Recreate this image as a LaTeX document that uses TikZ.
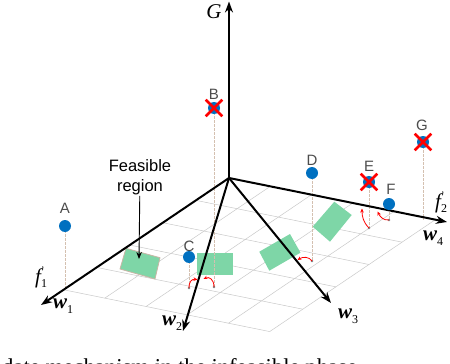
\documentclass[tikz,border=0pt]{standalone}
\usepackage{fontspec}
\setmainfont{Liberation Serif}
\newfontfamily\sansf{Liberation Sans}
\usetikzlibrary{arrows.meta,calc,shapes.misc}
\definecolor{ptblue}{RGB}{0,112,192}
\definecolor{feas}{RGB}{126,214,167}
\definecolor{dropc}{RGB}{212,192,176}
\definecolor{gridc}{RGB}{200,200,200}
\definecolor{rectb}{RGB}{200,182,165}
\begin{document}
\begin{tikzpicture}[x=1pt,y=-1pt,
  axis/.style={line width=2pt,-{Stealth[length=11pt,width=8pt]}},
  gridline/.style={draw=gridc,line width=0.5pt},
  drop/.style={draw=dropc,line width=0.8pt,dash pattern=on 2.5pt off 1.5pt},
  bluedot/.style={circle,fill=ptblue,minimum size=12pt,inner sep=0pt},
  xmark/.style={draw=red,cross out,line width=2.6pt,minimum size=14pt,inner sep=0pt},
  mv/.style={draw=red,line width=0.8pt,-{Stealth[length=4pt,width=3.5pt]}},
  foot/.style={circle,fill=gray,minimum size=2.6pt,inner sep=0pt},
  region/.style={fill=feas},
  plabel/.style={font=\sansf\fontsize{15}{15}\selectfont,text=black!70},
  mlabel/.style={font=\fontsize{21}{21}\selectfont,inner sep=0pt},
  sublabel/.style={font=\fontsize{12}{12}\selectfont}
]
\useasboundingbox (0,0) rectangle (450,364);

% floor grid
\coordinate (O) at (229,178);
\foreach \a in {0.176,0.352,0.528,0.704,0.88}
  \draw[gridline] ($(O)+\a*(-188,127)$) -- ($(O)+\a*(-188,127)+0.95*(217,44)$);
\foreach \b in {0.19,0.38,0.57,0.76,0.95}
  \draw[gridline] ($(O)+\b*(217,44)$) -- ($(O)+\b*(217,44)+0.88*(-188,127)$);

% feasible regions
\filldraw[region,draw=rectb,line width=0.8pt] (126,248.3) -- (160,257.7) -- (155,279) -- (120,269) -- cycle;
\fill[region] (197.3,252.7) rectangle (233.3,275.3);
\fill[region] (259.3,251.7) -- (290,234) -- (300.5,252.7) -- (269.3,270.7) -- cycle;
\fill[region] (312.7,226.7) -- (334.3,201.7) -- (351.7,215) -- (330,241.7) -- cycle;

% points and their feet
\coordinate (A) at (65,226);   \coordinate (Af) at (65,290);
\coordinate (B) at (214,108);  \coordinate (Bf) at (214,287);
\coordinate (C) at (189,257);  \coordinate (Cf) at (189,288);
\coordinate (D) at (312,173);  \coordinate (Df) at (312,261);
\coordinate (E) at (369,182);  \coordinate (Ef) at (369,228);
\coordinate (F) at (389,204);  \coordinate (Ff) at (389,220);
\coordinate (G) at (423,142);  \coordinate (Gf) at (423,220);

\foreach \p in {A,B,C,D,E,F,G}
  \draw[drop] (\p) -- (\p f);

% axes
\coordinate (Gend) at (229,1.5);
\coordinate (W1) at (41,305);
\coordinate (W2) at (183,331);
\coordinate (W3) at (331,303);
\coordinate (W4) at (447,222);
\draw[axis] (O) -- (Gend);
\draw[axis] (O) -- (W1);
\draw[axis] (O) -- (W2);
\draw[axis] (O) -- (W3);
\draw[axis] (O) -- (W4);

% feet markers
\foreach \p in {B,C,D,E,F}
  \node[foot] (\p foot) at (\p f) {};

% movement arrows
\coordinate (Ct) at (197.5,279.5);
\coordinate (Bt) at (203.5,279);
\coordinate (Dt) at (297.5,260);
\coordinate (Et) at (362,208.5);
\coordinate (Ft) at (377.5,211.5);
\draw[mv] (Cf) .. controls (189,281) and (192,279) .. (Ct);
\draw[mv] (Bf) .. controls (214,279) and (209,276.5) .. (Bt);
\draw[mv] (Df) .. controls (309,256.5) and (303,256.5) .. (Dt);
\draw[mv] (Ef) .. controls (363,222) and (362,216) .. (Et);
\draw[mv] (Ff) .. controls (383,220.5) and (380,216.5) .. (Ft);

% solutions
\foreach \p in {A,B,C,D,E,F,G}
  \node[bluedot] (\p dot) at (\p) {};
\foreach \p in {B,E,G}
  \node[xmark] (\p x) at (\p) {};

% point labels
\node[plabel] (lA) at (65,208) {A};
\node[plabel] (lB) at (214,94) {B};
\node[plabel] (lC) at (189,246) {C};
\node[plabel] (lD) at (312,160) {D};
\node[plabel] (lE) at (369,166) {E};
\node[plabel] (lF) at (391,189) {F};
\node[plabel] (lG) at (422,125) {G};

% feasible region label
\node[font=\sansf\fontsize{16.5}{20}\selectfont,align=center,inner sep=1pt] (fr) at (140,177) {Feasible\\region};
\coordinate (frtip) at (139,259);
\draw[line width=0.9pt,-{Stealth[length=7pt,width=5.5pt]}] (fr) -- (frtip);

% axis labels
\node[mlabel,anchor=base] (lGax) at (214,18) {\itshape G};
\node[mlabel,anchor=base west] (lw1) at (53,308) {\bfseries\itshape w\raisebox{-5pt}{\normalfont\fontsize{12}{12}\selectfont 1}};
\node[mlabel,anchor=base west] (lw2) at (162,325) {\bfseries\itshape w\raisebox{-5pt}{\normalfont\fontsize{12}{12}\selectfont 2}};
\node[mlabel,anchor=base west] (lw3) at (338,318) {\bfseries\itshape w\raisebox{-5pt}{\normalfont\fontsize{12}{12}\selectfont 3}};
\node[mlabel,anchor=base west] (lw4) at (423,240) {\bfseries\itshape w\raisebox{-5pt}{\normalfont\fontsize{12}{12}\selectfont 4}};
\node[mlabel,anchor=base west] (lf1) at (35,283) {\itshape f\makebox[0pt][l]{\raisebox{10pt}{\normalfont\fontsize{10}{10}\selectfont '}}\raisebox{-4pt}{\normalfont\fontsize{12}{12}\selectfont 1}};
\node[mlabel,anchor=base west] (lf2) at (435,208) {\itshape f\makebox[0pt][l]{\raisebox{10pt}{\normalfont\fontsize{10}{10}\selectfont '}}\raisebox{-4pt}{\normalfont\fontsize{12}{12}\selectfont 2}};

% caption (cut off by the frame)
\node[font=\fontsize{22.7}{24}\selectfont,anchor=base west,inner sep=0pt] (cap) at (2,374.5) {date mechanism in the infeasible phase};
\end{tikzpicture}
\end{document}
